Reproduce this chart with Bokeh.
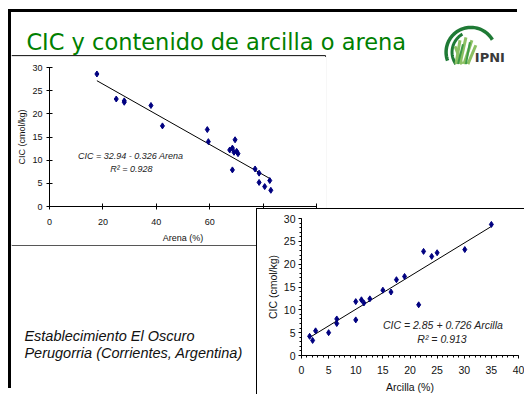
import numpy as np
from bokeh.plotting import figure
from bokeh.models import Range1d, Label, SingleIntervalTicker
from bokeh.layouts import column
from bokeh.embed import file_html
from bokeh.resources import INLINE
from bokeh.core.properties import value

# ---------------- data ----------------
title_text = "CIC y contenido de arcilla o arena"
site_lines = ["Establecimiento El Oscuro", "Perugorria (Corrientes, Argentina)"]

arena = [17.75, 25.0, 28.0, 28.0, 38.0, 42.3, 59.1, 59.5, 67.5, 68.5, 69.1,
         69.5, 70.1, 70.6, 68.5, 77.0, 78.5, 78.5, 80.6, 82.5, 82.9]
cic_arena = [28.6, 23.2, 22.8, 22.5, 21.8, 17.4, 16.6, 14.0, 12.2, 12.6, 11.7,
             14.4, 11.9, 11.4, 7.9, 8.1, 7.2, 5.2, 4.3, 5.6, 3.5]
fit_arena = (32.94, -0.326)
eq_arena = ["CIC = 32.94 - 0.326 Arena", "R\u00b2 = 0.928"]

arcilla = [1.5, 2.05, 2.6, 5.0, 6.5, 6.5, 10.0, 10.0, 11.05, 11.5, 12.6,
           15.0, 16.5, 17.5, 19.0, 21.6, 22.5, 24.0, 25.0, 30.1, 35.0]
cic_arcilla = [4.2, 3.3, 5.4, 5.0, 8.0, 7.0, 11.8, 7.8, 12.2, 11.5, 12.4,
               14.3, 13.9, 16.6, 17.3, 11.1, 22.8, 21.7, 22.5, 23.2, 28.7]
fit_arcilla = (2.85, 0.726)
eq_arcilla = ["CIC = 2.85 + 0.726 Arcilla", "R\u00b2 = 0.913"]

y_label = "CIC (cmol/kg)"
x_label_1 = "Arena (%)"
x_label_2 = "Arcilla (%)"

FONT_NAME = "Liberation Sans"
FONT = value(FONT_NAME)
PT_COLOR = "#000080"


def placed(left, top, **extra):
    st = {"position": "absolute", "left": f"{left}px", "top": f"{top}px"}
    st.update(extra)
    return st


# ---------------- background slide ----------------
# host at (8, 9) with a 3px black frame on its left and top edges;
# the canvas then starts at page (11, 12), so data units equal page pixels
BW, BH = 513, 382
bg = figure(frame_width=BW, frame_height=BH, title=None, frame_align=False,
            x_range=Range1d(11, 11 + BW), y_range=Range1d(12 + BH, 12),
            x_axis_location=None, y_axis_location=None, output_backend="svg",
            toolbar_location=None, min_border_left=0, min_border_right=0,
            min_border_top=0, min_border_bottom=0, outline_line_color=None,
            styles=placed(8, 9, **{"border-left": "3px solid black",
                                   "border-top": "3px solid black"}))
bg.grid.visible = False
# chart 1 box
bg.line(x=[11, 327.5, 327.5], y=[55.5, 55.5, 246.5], line_color="black", line_width=1)
bg.line(x=[11, 327.5], y=[246.5, 246.5], line_color="black", line_width=1)
# title
bg.text(x=[26], y=[42], text=[title_text], text_font=value("DejaVu Sans"),
        text_font_size="22.5px", text_color="#008000", text_baseline="alphabetic")
# logo
t = np.radians(np.linspace(200, 30, 50))
cx, cy, r = 474, 52, 25
bg.line(cx + r * np.cos(t), cy - r * np.sin(t), line_color="#1F7A35", line_width=3.5)
t2 = np.radians(np.linspace(215, 120, 30))
bg.line(cx + 2 + (r - 4) * np.cos(t2), cy - (r - 4) * np.sin(t2),
        line_color="#1F7A35", line_width=3)
bg.multi_line(xs=[[459, 463], [463, 469], [467, 475], [471, 479], [465, 458]],
              ys=[[64, 40], [64, 37], [64, 40], [64, 45], [64, 46]],
              line_color="#8CC063", line_width=3)
bg.multi_line(xs=[[461, 466], [469, 473]], ys=[[64, 44], [64, 42]],
              line_color="#3E9A45", line_width=2)
bg.text(x=[478], y=[57], text=["IPNI"], text_font=value("DejaVu Sans"),
        text_font_style="bold", text_font_size="13px", text_color="#3A3A3A",
        text_baseline="alphabetic")
# site text
bg.text(x=[24, 24], y=[338, 355], text=site_lines, text_font=FONT,
        text_font_style="italic", text_font_size="14.5px", text_color="#111111",
        text_baseline="alphabetic")


def style_axes(p, fs, tick_in, tick_out, minor):
    for ax in (p.xaxis[0], p.yaxis[0]):
        ax.axis_line_color = "black"
        ax.major_tick_line_color = "black"
        ax.major_tick_in = tick_in
        ax.major_tick_out = tick_out
        ax.major_label_text_font = FONT_NAME
        ax.major_label_text_font_size = fs
        ax.major_label_text_color = "#111111"
        ax.axis_label_text_font = FONT_NAME
        ax.axis_label_text_font_size = fs
        ax.axis_label_text_font_style = "normal"
        ax.axis_label_text_color = "#111111"
        if minor:
            ax.minor_tick_line_color = "black"
            ax.minor_tick_in = 0
            ax.minor_tick_out = 2
        else:
            ax.minor_tick_line_color = None
    p.grid.visible = False


def eq_label(x, y, text, fs):
    return Label(x=x, y=y, text=text, text_font=FONT_NAME, text_font_size=fs,
                 text_font_style="italic", text_align="center",
                 text_baseline="middle", text_color="#222222")


# ---------------- chart 1: arena ----------------
p1 = figure(width=315, height=189, x_range=Range1d(0, 100), y_range=Range1d(0, 30),
            output_backend="svg", toolbar_location=None, frame_align=False,
            min_border_left=38, min_border_right=10, min_border_top=11,
            min_border_bottom=38, outline_line_color=None,
            x_axis_label=x_label_1, y_axis_label=y_label,
            styles=placed(11, 56))
p1.xaxis.ticker = SingleIntervalTicker(interval=20, num_minor_ticks=0)
p1.yaxis.ticker = SingleIntervalTicker(interval=5, num_minor_ticks=0)
style_axes(p1, "9px", 3, 3, False)
p1.xaxis.major_label_standoff = 9
p1.yaxis.major_label_standoff = 4
p1.xaxis.axis_label_standoff = 5
p1.yaxis.axis_label_standoff = 2
xs1 = np.array([min(arena), max(arena)])
p1.line(xs1, fit_arena[0] + fit_arena[1] * xs1, line_color="black", line_width=1)
p1.scatter(arena, cic_arena, marker="diamond", size=6, color=PT_COLOR)
p1.add_layout(eq_label(30.4, 10.95, eq_arena[0], "9px"))
p1.add_layout(eq_label(30.7, 8.2, eq_arena[1], "9px"))

# ---------------- chart 2: arcilla ----------------
p2 = figure(width=268, height=186, x_range=Range1d(0, 40), y_range=Range1d(0, 30),
            output_backend="svg", toolbar_location=None, frame_align=False,
            min_border_left=44, min_border_right=7, min_border_top=9,
            min_border_bottom=39, outline_line_color=None,
            x_axis_label=x_label_2, y_axis_label=y_label,
            styles=placed(256, 208, **{"border-left": "1px solid black",
                                       "border-top": "1px solid black",
                                       "background": "white"}))
p2.xaxis.ticker = SingleIntervalTicker(interval=5, num_minor_ticks=5)
p2.yaxis.ticker = SingleIntervalTicker(interval=5, num_minor_ticks=5)
style_axes(p2, "10.5px", 0, 3, True)
p2.xaxis.major_label_standoff = 7
p2.yaxis.major_label_standoff = 3
p2.xaxis.axis_label_standoff = 4
p2.yaxis.axis_label_standoff = 2
xs2 = np.array([min(arcilla), max(arcilla)])
p2.line(xs2, fit_arcilla[0] + fit_arcilla[1] * xs2, line_color="black", line_width=1)
p2.scatter(arcilla, cic_arcilla, marker="diamond", size=6, color=PT_COLOR)
p2.add_layout(eq_label(26.1, 6.75, eq_arcilla[0], "10.5px"))
p2.add_layout(eq_label(25.9, 3.7, eq_arcilla[1], "10.5px"))

page = column(bg, p1, p2, width=509, height=379, sizing_mode="fixed")

open("out.html", "w").write(file_html(page, INLINE))
